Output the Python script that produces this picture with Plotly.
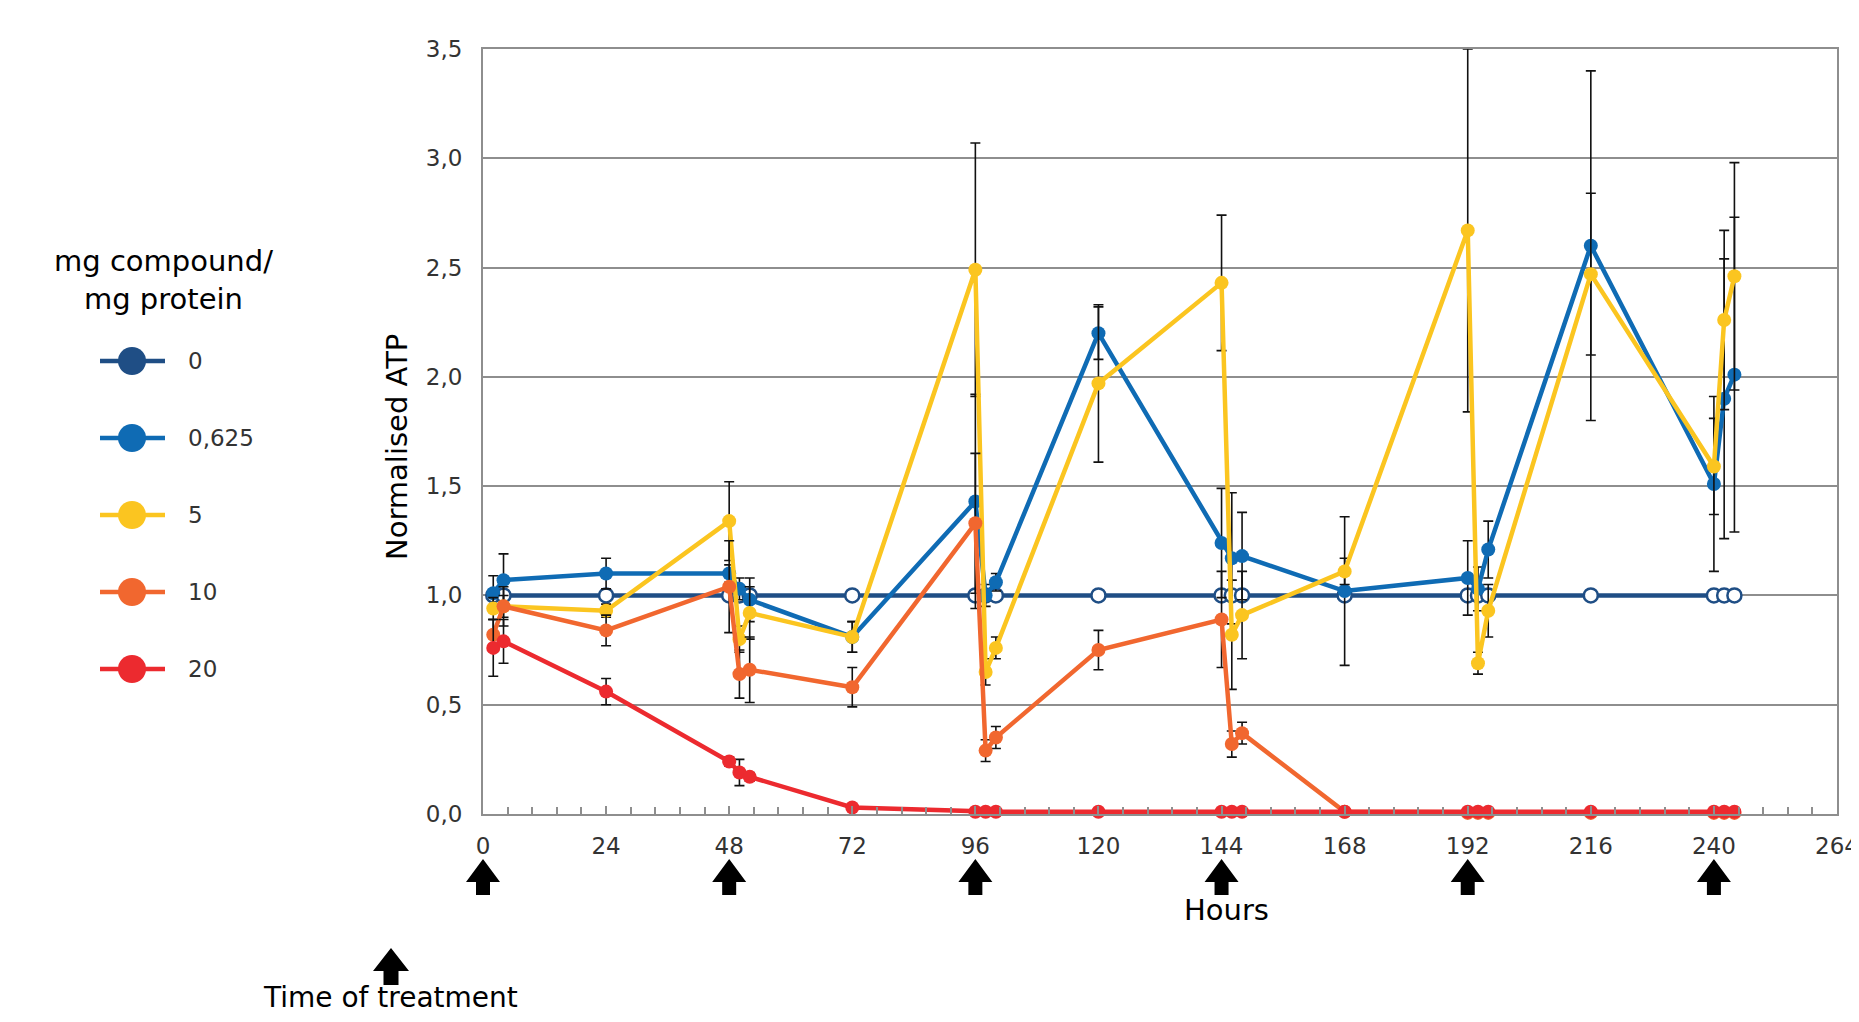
import plotly.graph_objects as go

# ---------------- data ----------------
hours = [2, 4, 24, 48, 50, 52, 72, 96, 98, 100, 120, 144, 146, 148, 168,
         192, 194, 196, 216, 240, 242, 244]
treatment_times = [0, 48, 96, 144, 192, 240]

series_names = ["0", "0,625", "5", "10", "20"]

atp_0 = [1.00] * 22
atp_0625 = [1.01, 1.07, 1.10, 1.10, 1.03, 0.98, 0.81, 1.43, 1.00, 1.06, 2.20,
            1.24, 1.17, 1.18, 1.02, 1.08, 1.03, 1.21, 2.60, 1.51, 1.90, 2.01]
err_0625 = [0.08, 0.12, 0.07, 0.04, 0.05, 0.10, 0.07, 0.49, 0.05, 0.04, 0.12,
            0.25, 0.30, 0.20, 0.34, 0.17, 0.10, 0.13, 0.80, 0.40, 0.64, 0.72]
atp_5 = [0.94, 0.95, 0.93, 1.34, 0.80, 0.92, 0.81, 2.49, 0.65, 0.76, 1.97,
         2.43, 0.82, 0.91, 1.11, 2.67, 0.69, 0.93, 2.47, 1.59, 2.26, 2.46]
err_5 = [0.05, 0.05, 0.03, 0.18, 0.06, 0.12, 0.07, 0.58, 0.06, 0.05, 0.36,
         0.31, 0.25, 0.20, 0.06, 0.83, 0.05, 0.12, 0.37, 0.22, 0.41, 0.52]
atp_10 = [0.82, 0.95, 0.84, 1.04, 0.64, 0.66, 0.58, 1.33, 0.29, 0.35, 0.75,
          0.89, 0.32, 0.37, 0.01, 0.005, 0.005, 0.005, 0.005, 0.005, 0.005, 0.005]
err_10 = [0.07, 0.09, 0.07, 0.21, 0.11, 0.15, 0.09, 0.32, 0.05, 0.05, 0.09,
          0.22, 0.06, 0.05, 0, 0, 0, 0, 0, 0, 0, 0]
atp_20 = [0.76, 0.79, 0.56, 0.24, 0.19, 0.17, 0.03, 0.01, 0.01, 0.01, 0.01,
          0.01, 0.01, 0.01, 0.01, 0.01, 0.01, 0.01, 0.01, 0.01, 0.01, 0.01]
err_20 = [0.13, 0.10, 0.06, 0.02, 0.06, 0.02, 0.01, 0, 0, 0, 0,
          0, 0, 0, 0, 0, 0, 0, 0, 0, 0, 0]

x_ticks = [0, 24, 48, 72, 96, 120, 144, 168, 192, 216, 240, 264]
X_RANGE = [0, 264]
Y_RANGE = [0, 3.5]

# ---------------- style / layout geometry ----------------
colors = ["#1F4E85", "#0F6BB4", "#FBC520", "#F1672F", "#EC2A2F"]
FONT = "DejaVu Sans"
OFF = 8                      # default body margin of the html page
PAGE_W, PAGE_H = 1859, 1022
W, H = PAGE_W - 2 * OFF, PAGE_H - 2 * OFF
L, R, T, B = 483, 1837, 49, 814   # plot area in page pixels
PW, PH = R - L, B - T


def px_x(px):
    return (px - L) / PW


def px_y(py):
    return (B - py) / PH


def data_to_paper_x(v):
    return (v - X_RANGE[0]) / (X_RANGE[1] - X_RANGE[0])


fig = go.Figure()

values = [atp_0, atp_0625, atp_5, atp_10, atp_20]
errors = [None, err_0625, err_5, err_10, err_20]

for i, (name, vals, errs) in enumerate(zip(series_names, values, errors)):
    if i == 0:
        marker = dict(size=14, color="white", line=dict(color=colors[0], width=2.5))
    else:
        marker = dict(size=14, color=colors[i], line=dict(width=0))
    tr = dict(
        x=hours, y=vals, mode="lines+markers", name=name,
        line=dict(color=colors[i], width=4.5),
        marker=marker, cliponaxis=False, showlegend=False,
    )
    if errs is not None:
        tr["error_y"] = dict(type="data", array=errs, visible=True,
                             color="#111111", thickness=1.6, width=5)
    fig.add_trace(go.Scatter(**tr))

shapes = []
annotations = []

# treatment arrows under the x axis
arrow_path = ("M -17,-68 L 0,-45 L 17,-68 L 7,-68 L 7,-81 "
              "L -7,-81 L -7,-68 Z")
for t in treatment_times:
    shapes.append(dict(type="path", xref="paper", yref="paper",
                       xsizemode="pixel", xanchor=data_to_paper_x(t),
                       ysizemode="pixel", yanchor=0,
                       path=arrow_path, fillcolor="black",
                       line=dict(width=0)))

# key arrow "Time of treatment"
shapes.append(dict(type="path", xref="paper", yref="paper",
                   xsizemode="pixel", xanchor=px_x(391),
                   ysizemode="pixel", yanchor=0,
                   path=("M -18,-157 L 0,-134 L 18,-157 L 7.5,-157 L 7.5,-171 "
                         "L -7.5,-171 L -7.5,-157 Z"),
                   fillcolor="black", line=dict(width=0)))
annotations.append(dict(text="Time of treatment", xref="paper", yref="paper",
                        x=px_x(390), y=px_y(997), showarrow=False,
                        xanchor="center", yanchor="middle",
                        font=dict(family=FONT, size=28, color="black")))

# custom legend
annotations.append(dict(text="mg compound/<br>mg protein", xref="paper", yref="paper",
                        x=px_x(163), y=px_y(280), showarrow=False,
                        xanchor="center", yanchor="middle", align="center",
                        font=dict(family=FONT, size=29, color="black")))
for i, name in enumerate(series_names):
    row = 361 + i * 77
    shapes.append(dict(type="line", xref="paper", yref="paper",
                       x0=px_x(100), x1=px_x(165), y0=px_y(row), y1=px_y(row),
                       line=dict(color=colors[i], width=4.5)))
    shapes.append(dict(type="circle", xref="paper", yref="paper",
                       x0=px_x(132 - 14), x1=px_x(132 + 14),
                       y0=px_y(row + 14), y1=px_y(row - 14),
                       fillcolor=colors[i], line=dict(width=0)))
    annotations.append(dict(text=name, xref="paper", yref="paper",
                            x=px_x(186), y=px_y(row), showarrow=False,
                            xanchor="left", yanchor="middle",
                            font=dict(family=FONT, size=23, color="#333333")))

# axis titles
annotations.append(dict(text="Normalised ATP", xref="paper", yref="paper",
                        x=px_x(397), y=px_y(447), showarrow=False, textangle=-90,
                        xanchor="center", yanchor="middle",
                        font=dict(family=FONT, size=29, color="black")))
annotations.append(dict(text="Hours", xref="paper", yref="paper",
                        x=px_x(1226), y=px_y(910), showarrow=False,
                        xanchor="center", yanchor="middle",
                        font=dict(family=FONT, size=29, color="black")))

GRID = "#8E8E8E"
fig.update_layout(
    width=W, height=H,
    margin=dict(l=L - OFF, r=W - (R - OFF), t=T - OFF, b=H - (B - OFF), pad=0),
    paper_bgcolor="white", plot_bgcolor="white",
    separators=",.",
    showlegend=False,
    hovermode=False,
    shapes=shapes, annotations=annotations,
    xaxis=dict(range=X_RANGE, tickvals=x_ticks, ticktext=[str(v) for v in x_ticks],
               automargin=False,
               showgrid=False, zeroline=False,
               showline=True, linecolor=GRID, linewidth=2, mirror=True,
               ticks="inside", ticklen=8, tickcolor=GRID, tickwidth=1.5,
               minor=dict(dtick=4.8, tick0=0, ticks="inside", ticklen=7,
                          tickcolor=GRID, tickwidth=1.5, showgrid=False),
               tickfont=dict(family=FONT, size=23, color="#333333"),
               ticklabeloverflow="allow",
               ticklabelstandoff=10),
    yaxis=dict(range=Y_RANGE, dtick=0.5, tick0=0, tickformat=".1f",
               automargin=False,
               showgrid=True, gridcolor=GRID, gridwidth=1.5,
               zeroline=False,
               showline=True, linecolor=GRID, linewidth=2, mirror=True,
               ticks="", tickfont=dict(family=FONT, size=23, color="#333333"),
               ticklabelstandoff=14),
)

fig.write_html("out.html", config={"displayModeBar": False})
